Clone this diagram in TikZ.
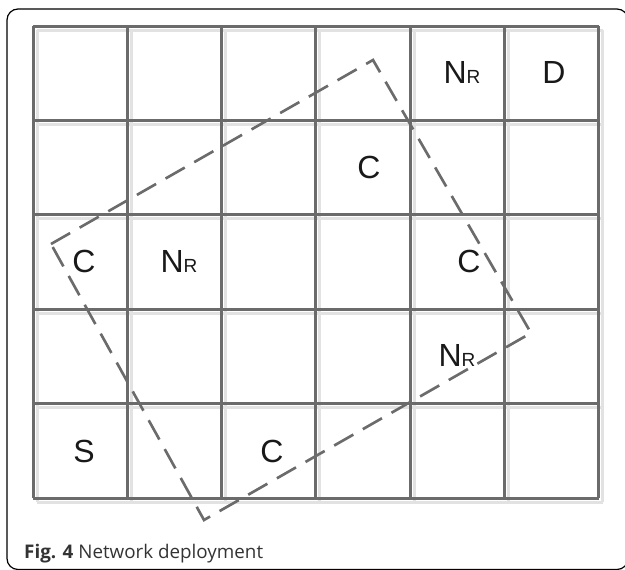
\documentclass[tikz,border=0pt]{standalone}
\usepackage{fontspec}
\setmainfont{Liberation Sans}
\newfontfamily\capfont{Open Sans}
\definecolor{gridgray}{HTML}{6B6B6B}
\definecolor{shadowgray}{HTML}{E2E2E2}
\begin{document}
\begin{tikzpicture}[x=1pt,y=-1pt,
  gridline/.style={line width=3pt, draw=gridgray},
  gridshadow/.style={line width=3pt, draw=shadowgray},
  zone/.style={line width=2.6pt, draw=gridgray, dash pattern=on 22pt off 11pt},
  zoneshadow/.style={line width=2.6pt, draw=shadowgray, dash pattern=on 22pt off 11pt},
  lbl/.style={font=\fontsize{32}{32}\selectfont, text=black!90, inner sep=0pt},
  frame/.style={draw=black, line width=1.2pt, rounded corners=11pt}]
\useasboundingbox (0,0) rectangle (625,570);
\clip (0,0) rectangle (625,570);
\draw[frame] (7,9) rectangle (628,569.5);
% shadows
\begin{scope}[shift={(4,4)}]
  \foreach \i in {0,...,6} \draw[gridshadow] (33+94.33*\i,26) -- (33+94.33*\i,498);
  \foreach \j in {0,...,5} \draw[gridshadow] (33,26+94.4*\j) -- (599,26+94.4*\j);
\end{scope}
\coordinate (t) at (373,60);
\coordinate (r) at (531,333);
\coordinate (b) at (204,520);
\coordinate (l) at (51,244);
\draw[zoneshadow, shift={(3,4)}] (l) -- (t) -- (r) -- (b) -- cycle;
% grid
\foreach \i in {0,...,6} \draw[gridline] (33+94.33*\i,26) -- (33+94.33*\i,498);
\foreach \j in {0,...,5} \draw[gridline] (33,26+94.4*\j) -- (599,26+94.4*\j);
% rotated zone
\draw[zone] (l) -- (t) -- (r) -- (b) -- cycle;
% labels
\newcommand{\nr}{N{\fontsize{19}{19}\selectfont R}}
\node[lbl] (n1) at (462,72) {\nr};
\node[lbl] (d) at (554,72) {D};
\node[lbl] (c1) at (369,167) {C};
\node[lbl] (c2) at (84,261) {C};
\node[lbl] (n2) at (179,261) {\nr};
\node[lbl] (c3) at (469,261) {C};
\node[lbl] (n3) at (457,355) {\nr};
\node[lbl] (s) at (84,451) {S};
\node[lbl] (c4) at (272,451) {C};
\node[anchor=base west, inner sep=0pt, text=black!80, font=\capfont\fontsize{18.8}{18.8}\selectfont] (cap) at (24,558) {\textbf{Fig. 4} Network deployment};
\end{tikzpicture}
\end{document}
